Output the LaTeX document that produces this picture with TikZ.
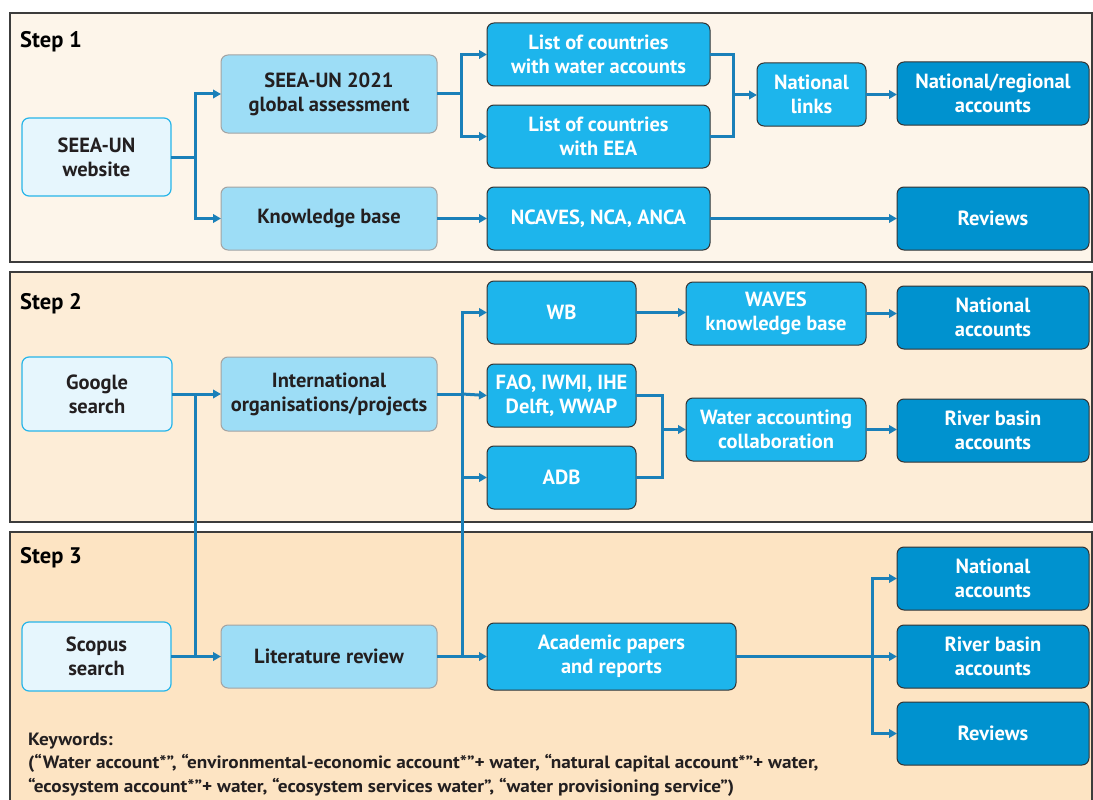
\documentclass[tikz,border=0pt]{standalone}
\usepackage{fontspec}
\setmainfont{PT Sans}
\newfontfamily\kwfont{PT Sans}[FakeStretch=1.08]
\usetikzlibrary{arrows.meta}
\definecolor{pone}{HTML}{FDF5EA}
\definecolor{ptwo}{HTML}{FDEDD7}
\definecolor{pthree}{HTML}{FDE4C3}
\definecolor{pborder}{HTML}{3C3C3C}
\definecolor{lightfill}{HTML}{E6F6FD}
\definecolor{lightborder}{HTML}{27B5E9}
\definecolor{midfill}{HTML}{9DDDF6}
\definecolor{midborder}{HTML}{A3A3A3}
\definecolor{cyanfill}{HTML}{1DB5EC}
\definecolor{darkfill}{HTML}{0092CF}
\definecolor{boxborder}{HTML}{333333}
\definecolor{conncol}{HTML}{1A80B9}
\definecolor{txt}{HTML}{231F20}
\newcommand\bx[7]{\node[#1,minimum width={(#5-#3)*1pt},minimum height={(#6-#4)*1pt}] (#2) at ({(#3+#5)/2},{(#4+#6)/2}) {#7};}
\begin{document}
\begin{tikzpicture}[x=1pt,y=-1pt,
  panel/.style={draw=pborder,line width=1.2pt},
  basebox/.style={rounded corners=7pt,line width=1pt,inner sep=0pt,outer sep=0pt,align=center,font=\bfseries\fontsize{20.5}{24}\selectfont},
  lightbox/.style={basebox,draw=lightborder,fill=lightfill,text=txt,line width=1.2pt},
  midbox/.style={basebox,draw=midborder,fill=midfill,text=txt},
  cyanbox/.style={basebox,draw=boxborder,fill=cyanfill,text=white,font=\bfseries\fontsize{20.5}{24}\selectfont},
  darkbox/.style={basebox,draw=boxborder,fill=darkfill,text=white,font=\bfseries\fontsize{20.5}{24}\selectfont},
  steplabel/.style={anchor=base west,inner sep=0pt,text=black,font=\bfseries\fontsize{22.5}{24}\selectfont},
  conn/.style={draw=conncol,line width=3pt,-{Triangle[length=8pt,width=8.5pt]}},
  link/.style={draw=conncol,line width=3pt}]
\useasboundingbox (0,0) rectangle (1093,800);
\clip (0,0) rectangle (1093,800);
% panels
\draw[panel,fill=pone] (10,13) rectangle (1092,262);
\draw[panel,fill=ptwo] (10,272) rectangle (1092,522);
\draw[panel,fill=pthree] (10,532) rectangle (1092,808);
\node[steplabel] (s1) at (20,48) {Step 1};
\node[steplabel] (s2) at (20,309) {Step 2};
\node[steplabel] (s3) at (20,563) {Step 3};
% Step 1 boxes
\bx{lightbox}{web}{22}{118}{171}{196}{SEEA-UN\\website}
\bx{midbox}{ga}{221}{55}{437}{133}{SEEA-UN 2021\\global assessment}
\bx{midbox}{kb}{221}{187}{437}{250}{Knowledge base}
\bx{cyanbox}{lwa}{487}{23}{710}{86}{List of countries\\with water accounts}
\bx{cyanbox}{leea}{487}{105}{710}{168}{List of countries\\with EEA}
\bx{cyanbox}{ncaves}{487}{187}{710}{250}{NCAVES, NCA, ANCA}
\bx{cyanbox}{nl}{757}{63}{866}{126}{National\\links}
\bx{darkbox}{nra}{897}{62}{1089}{125}{National/regional\\accounts}
\bx{darkbox}{rev1}{897}{187}{1089}{250}{Reviews}
% Step 2 boxes
\bx{lightbox}{goo}{22}{357}{172}{431}{Google\\search}
\bx{midbox}{intl}{221}{357}{437}{431}{International\\organisations/projects}
\bx{cyanbox}{wb}{487}{281}{636}{344}{WB}
\bx{cyanbox}{fao}{487}{364}{636}{427}{FAO, IWMI, IHE\\Delft, WWAP}
\bx{cyanbox}{adb}{487}{446}{636}{509}{ADB}
\bx{cyanbox}{waves}{686}{282}{866}{345}{WAVES\\knowledge base}
\bx{cyanbox}{wac}{686}{398}{866}{461}{Water accounting\\collaboration}
\bx{darkbox}{na2}{897}{286}{1089}{349}{National\\accounts}
\bx{darkbox}{rb2}{897}{399}{1089}{462}{River basin\\accounts}
% Step 3 boxes
\bx{lightbox}{sco}{22}{622}{171}{691}{Scopus\\search}
\bx{midbox}{lit}{221}{625}{437}{688}{Literature review}
\bx{cyanbox}{acad}{487}{623}{736}{690}{Academic papers\\and reports}
\bx{darkbox}{na3}{897}{547}{1089}{610}{National\\accounts}
\bx{darkbox}{rb3}{897}{625}{1089}{688}{River basin\\accounts}
\bx{darkbox}{rev3}{897}{702}{1089}{765}{Reviews}
% keywords
\node[anchor=base west,inner sep=0pt,align=left,text=txt,font=\kwfont\bfseries\fontsize{17.8}{23.5}\selectfont] (kw) at (28,792)
 {Keywords:\\(“Water account*”, “environmental-economic account*”+ water, “natural capital account*”+ water,\\“ecosystem account*”+ water, “ecosystem services water”, “water provisioning service”)};
% junction coordinates
\coordinate (j1) at (195,157);
\coordinate (j2) at (461,94);
\coordinate (j3) at (733,95);
\coordinate (jg) at (195,394);
\coordinate (js) at (195,656.5);
\coordinate (ji) at (462,394);
\coordinate (jl) at (462,656.5);
\coordinate (jf) at (662,429.5);
\coordinate (ja) at (872,656.5);
% Step 1 connectors
\draw[link] (web.east) -- (j1);
\draw[conn] (j1) |- (ga.west);
\draw[conn] (j1) |- (kb.west);
\draw[link] (ga.east) -- (j2);
\draw[conn] (j2) |- (lwa.west);
\draw[conn] (j2) |- (leea.west);
\draw[link] (lwa.east) -| (j3);
\draw[link] (leea.east) -| (j3);
\draw[conn] (j3) -- (j3 -| nl.west);
\draw[conn] (nl.east) -- (nl.east -| nra.west);
\draw[conn] (kb.east) -- (ncaves.west);
\draw[conn] (ncaves.east) -- (rev1.west);
% Step 2 connectors
\draw[conn] (goo.east) -- (intl.west);
\draw[link] (jg) -- (js);
\draw[link] (intl.east) -- (ji);
\draw[conn] (ji) |- (wb.west);
\draw[conn] (ji) -- (fao.west);
\draw[conn] (ji) |- (adb.west);
\draw[link] (ji) -- (jl);
\draw[conn] (wb.east) -- (wb.east -| waves.west);
\draw[conn] (waves.east) -- (waves.east -| na2.west);
\draw[link] (fao.east) -| (jf);
\draw[link] (adb.east) -| (jf);
\draw[conn] (jf) -- (wac.west);
\draw[conn] (wac.east) -- (wac.east -| rb2.west);
% Step 3 connectors
\draw[conn] (sco.east) -- (lit.west);
\draw[conn] (lit.east) -- (acad.west);
\draw[link] (acad.east) -- (ja);
\draw[conn] (ja) |- (na3.west);
\draw[conn] (ja) -- (rb3.west);
\draw[conn] (ja) |- (rev3.west);
\end{tikzpicture}
\end{document}
